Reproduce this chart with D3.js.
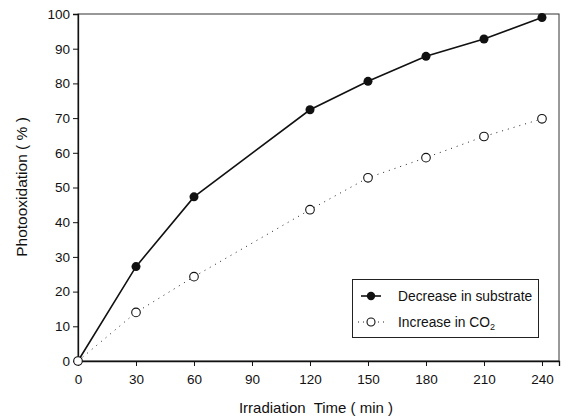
<!DOCTYPE html>
<meta charset="utf-8">
<style>
body { margin: 0; background: #fff; }
svg text { font-family: "Liberation Sans", Arial, sans-serif; fill: #111; white-space: pre; }
</style>
<body>
<script src="https://d3js.org/d3.v7.min.js"></script>
<script>
var times = [0, 30, 60, 120, 150, 180, 210, 240]
var substrate = [0, 27.2, 47.3, 72.4, 80.6, 87.8, 92.8, 99]
var co2 = [0, 14, 24.3, 43.6, 52.8, 58.6, 64.7, 69.8]
var xTicks = [0, 30, 60, 90, 120, 150, 180, 210, 240]
var yTicks = [0, 10, 20, 30, 40, 50, 60, 70, 80, 90, 100]

var width = 569
var height = 419
var margin = { top: 14, right: 10, bottom: 58, left: 78 }

var x = d3.scaleLinear()
    .domain([0, 248.8])
    .range([margin.left, width - margin.right])

var y = d3.scaleLinear()
    .domain([0, 100])
    .range([height - margin.bottom, margin.top])

var svg = d3.select('body')
    .append('svg')
    .attr('width', width)
    .attr('height', height)

// frame
svg.append('rect')
    .attr('x', x(0))
    .attr('y', y(100))
    .attr('width', x(248.8) - x(0))
    .attr('height', y(0) - y(100))
    .attr('fill', 'none')
    .attr('stroke', '#333')
    .attr('stroke-width', 1)

var xAxis = svg.append('g')
    .attr('transform', 'translate(0,' + y(0) + ')')
    .call(d3.axisBottom(x).tickValues(xTicks).tickSize(5).tickPadding(8))

var yAxis = svg.append('g')
    .attr('transform', 'translate(' + x(0) + ',0)')
    .call(d3.axisLeft(y).tickValues(yTicks).tickSize(5).tickPadding(3))

;[xAxis, yAxis].forEach(function (a) {
    a.select('.domain').attr('stroke', '#111').attr('stroke-width', 1.3)
    a.selectAll('.tick line').attr('stroke', '#111')
    a.selectAll('.tick text').style('font-size', '13.5px').attr('fill', '#111')
})

svg.append('text')
    .attr('x', 316)
    .attr('y', 413)
    .attr('text-anchor', 'middle')
    .style('font-size', '15px')
    .text('Irradiation  Time ( min )')

svg.append('text')
    .attr('transform', 'translate(27,187) rotate(-90)')
    .attr('text-anchor', 'middle')
    .style('font-size', '15.5px')
    .text('Photooxidation ( % )')

var line = d3.line()
    .x(function (d) { return x(d[0]) })
    .y(function (d) { return y(d[1]) })

var s1 = d3.zip(times, substrate)
var s2 = d3.zip(times, co2)

svg.append('path')
    .datum(s2)
    .attr('d', line)
    .attr('fill', 'none')
    .attr('stroke', '#222')
    .attr('stroke-width', 1)
    .attr('stroke-dasharray', '1,5')

svg.append('path')
    .datum(s1)
    .attr('d', line)
    .attr('fill', 'none')
    .attr('stroke', '#111')
    .attr('stroke-width', 1.6)

svg.selectAll('.open')
    .data(s2)
    .enter().append('circle')
    .attr('class', 'open')
    .attr('cx', function (d) { return x(d[0]) })
    .attr('cy', function (d) { return y(d[1]) })
    .attr('r', 4.3)
    .attr('fill', '#fff')
    .attr('stroke', '#111')
    .attr('stroke-width', 1.1)

svg.selectAll('.filled')
    .data(s1.slice(1))
    .enter().append('circle')
    .attr('class', 'filled')
    .attr('cx', function (d) { return x(d[0]) })
    .attr('cy', function (d) { return y(d[1]) })
    .attr('r', 4.5)
    .attr('fill', '#111')

// legend
var legend = svg.append('g')
legend.append('rect')
    .attr('x', 352.5)
    .attr('y', 279.5)
    .attr('width', 186)
    .attr('height', 58)
    .attr('fill', '#fff')
    .attr('stroke', '#222')
    .attr('stroke-width', 1)

legend.append('line')
    .attr('x1', 361).attr('x2', 381)
    .attr('y1', 296).attr('y2', 296)
    .attr('stroke', '#111').attr('stroke-width', 1.6)
legend.append('circle')
    .attr('cx', 371).attr('cy', 296).attr('r', 4.2).attr('fill', '#111')
legend.append('text')
    .attr('x', 398).attr('y', 301)
    .style('font-size', '13.8px')
    .text('Decrease in substrate')

legend.append('line')
    .attr('x1', 358).attr('x2', 386)
    .attr('y1', 322).attr('y2', 322)
    .attr('stroke', '#222').attr('stroke-width', 1)
    .attr('stroke-dasharray', '1,4')
legend.append('circle')
    .attr('cx', 371).attr('cy', 322).attr('r', 4)
    .attr('fill', '#fff').attr('stroke', '#111').attr('stroke-width', 1.1)
var t2 = legend.append('text')
    .attr('x', 398).attr('y', 327)
    .style('font-size', '13.8px')
t2.append('tspan').text('Increase in CO')
t2.append('tspan').attr('dy', 3).style('font-size', '9px').text('2')
</script>
</body>
